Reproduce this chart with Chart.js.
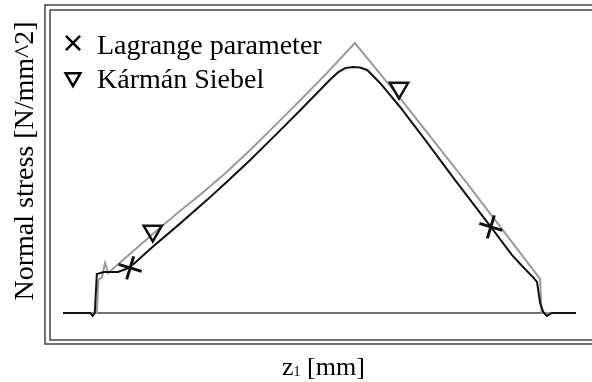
<!DOCTYPE html>
<html>
<head>
<meta charset="utf-8">
<title>Normal stress along z1</title>
<script src="https://cdn.jsdelivr.net/npm/chart.js@4/dist/chart.umd.min.js"></script>
<style>
    body { margin: 0; background: #fff; }
    #wrap { width: 592px; height: 382px; position: relative; }
</style>
</head>
<body>
<div id="wrap"><canvas id="stress-chart"></canvas></div>
<script>
(function() {

    "use strict";

    // Lagrange parameter solution
    const zLagrange = [0, 5.3, 5.8, 6.2, 6.6, 8.0, 10.7, 12.3, 14.0, 17.0, 22.8, 28.1, 31.6, 36.5, 41.3, 46.2, 50.1, 52.0, 53.6, 55.0, 56.5, 57.9, 59.3, 61.8, 65.7, 70.6, 76.4, 83.4, 87.5, 89.5, 91.6, 92.4, 93.0, 93.6, 94.3, 95.3, 100];
    const sLagrange = [0, 0, -1.1, 0, 14.4, 15.2, 15.2, 16.3, 18.5, 23.7, 33.1, 41.9, 48.0, 56.7, 65.7, 75.0, 82.6, 86.3, 89.1, 90.7, 91.1, 90.9, 90.0, 85.2, 76.3, 64.1, 49.3, 31.9, 21.5, 17.4, 13.3, 11.5, 3.7, 0.4, -1.1, 0, 0];

    // Kármán / Siebel solution
    const zKarman = [0, 6.6, 6.9, 7.6, 8.2, 8.8, 13.1, 17.5, 22.8, 26.7, 31.6, 36.5, 41.3, 46.2, 51.1, 56.9, 65.7, 78.4, 93.0, 93.3, 100];
    const sKarman = [0, 0, 12.2, 13.3, 18.5, 14.8, 21.9, 29.3, 37.8, 43.7, 51.7, 60.4, 69.4, 78.7, 88.2, 100, 79.6, 48.9, 12.6, 0, 0];

    // marker positions
    const zLagrangeMarks = [13.1, 83.4];
    const sLagrangeMarks = [16.7, 31.9];
    const zKarmanMarks = [17.5, 65.5];
    const sKarmanMarks = [30.4, 83.3];

    // zero line
    const zZero = [0, 100];
    const sZero = [0, 0];

    const seriesLabels = ['Lagrange parameter', 'Kármán Siebel'];
    const axisLabelY = 'Normal stress [N/mm^2]';

    const serif = '"Liberation Serif", "Times New Roman", serif';

    function points(zs, ss) {
        return zs.map(function(z, i) { return { x: z, y: ss[i] }; });
    }

    // double frame, axis labels and the legend in the top left corner
    const framePlugin = {
        id: 'frame',
        afterDraw: function(chart) {
            const ctx = chart.ctx,
                area = chart.chartArea,
                h = area.bottom - area.top;
            ctx.save();
            ctx.strokeStyle = '#444';
            ctx.lineWidth = 1.5;
            ctx.strokeRect(area.left - 5, area.top - 5, 700, h + 9);
            ctx.strokeRect(area.left, area.top, 700, h);

            ctx.fillStyle = '#000';

            // y label
            ctx.save();
            ctx.translate(33, 161);
            ctx.rotate(-Math.PI / 2);
            ctx.font = '28px ' + serif;
            ctx.textAlign = 'center';
            ctx.textBaseline = 'alphabetic';
            ctx.fillText(axisLabelY, 0, 0);
            ctx.restore();

            // x label with subscript
            ctx.textAlign = 'left';
            ctx.textBaseline = 'alphabetic';
            let x = 282;
            ctx.font = '26px ' + serif;
            ctx.fillText('z', x, 375);
            x += ctx.measureText('z').width;
            ctx.font = '14px ' + serif;
            ctx.fillText('1', x, 376);
            x += ctx.measureText('1').width;
            ctx.font = '26px ' + serif;
            ctx.fillText(' [mm]', x, 375);

            // legend
            chart.data.datasets.forEach(function(ds) {
                if (ds.legendRow === undefined) return;
                const rowY = area.top + 33 + ds.legendRow * 34.5;
                ctx.strokeStyle = '#000';
                ctx.fillStyle = 'rgba(0,0,0,0)';
                ctx.lineWidth = 2.5;
                Chart.helpers.drawPoint(ctx, {
                    pointStyle: ds.pointStyle,
                    rotation: ds.legendRotation,
                    radius: ds.legendRadius,
                    borderWidth: 2.5
                }, area.left + 23, rowY);
                ctx.fillStyle = '#000';
                ctx.font = '28px ' + serif;
                ctx.fillText(ds.label, area.left + 47, rowY + 10.5);
            });
            ctx.restore();
        }
    };

    const ctxStress = document.getElementById('stress-chart');

    new Chart(ctxStress, {
        type: 'line',
        data: {
            datasets: [{
                label: seriesLabels[0],
                data: points(zLagrangeMarks, sLagrangeMarks),
                showLine: false,
                pointStyle: 'crossRot',
                pointRadius: 12,
                pointRotation: -28,
                pointBorderWidth: 3,
                pointBorderColor: '#111',
                pointBackgroundColor: 'rgba(0,0,0,0)',
                legendRow: 0,
                legendRotation: 0,
                legendRadius: 10,
                clip: false,
                order: 0
            }, {
                label: seriesLabels[1],
                data: points(zKarmanMarks, sKarmanMarks),
                showLine: false,
                pointStyle: 'triangle',
                pointRadius: 10.5,
                pointRotation: 180,
                pointBorderWidth: 2.5,
                pointBorderColor: '#111',
                pointBackgroundColor: 'rgba(0,0,0,0)',
                legendRow: 1,
                legendRotation: 180,
                legendRadius: 8.5,
                clip: false,
                order: 0
            }, {
                label: 'Lagrange',
                data: points(zLagrange, sLagrange),
                borderColor: '#111',
                borderWidth: 2,
                pointRadius: 0,
                tension: 0,
                order: 1
            }, {
                label: 'Kármán',
                data: points(zKarman, sKarman),
                borderColor: '#9a9a9a',
                borderWidth: 2,
                pointRadius: 0,
                tension: 0,
                order: 2
            }, {
                label: 'zero',
                data: points(zZero, sZero),
                borderColor: '#444',
                borderWidth: 1.5,
                pointRadius: 0,
                order: 3
            }]
        },
        options: {
            responsive: true,
            maintainAspectRatio: false,
            animation: false,
            events: [],
            layout: {
                autoPadding: false,
                padding: { left: 50, top: 10, right: 0, bottom: 42 }
            },
            plugins: {
                legend: { display: false },
                tooltip: { enabled: false }
            },
            scales: {
                x: { type: 'linear', display: false, bounds: 'data', min: -2.53, max: 103.12 },
                y: { type: 'linear', display: false, bounds: 'data', min: -10, max: 112.22 }
            }
        },
        plugins: [framePlugin]
    });
})();
</script>
</body>
</html>
